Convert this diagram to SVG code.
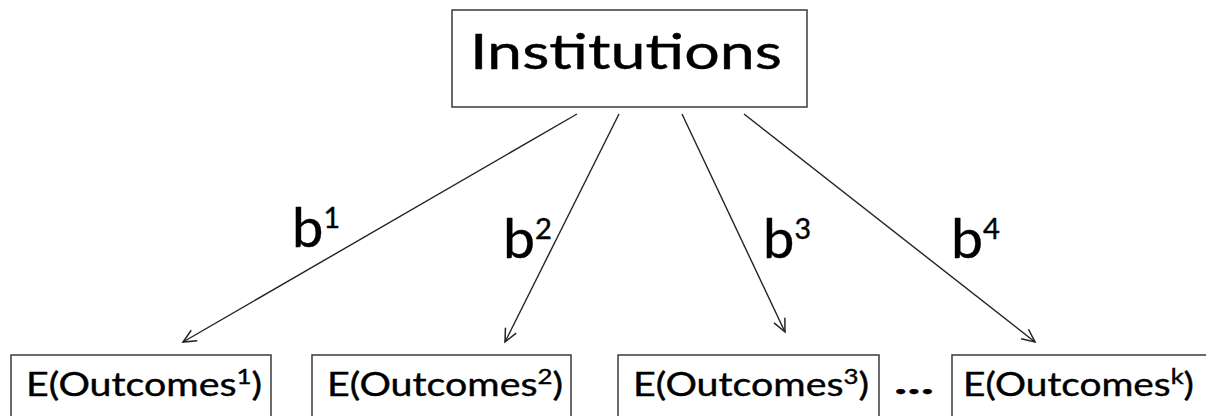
<svg xmlns="http://www.w3.org/2000/svg" width="1206" height="416" viewBox="0 0 1206 416">
<style>
.box{fill:#fff;stroke:#3a3a3a;stroke-width:1.5}
.t{font-family:Lato,"Open Sans","Liberation Sans",sans-serif;fill:#000;stroke:#000;stroke-width:0.4}
.conn line{stroke:#222;stroke-width:1.4;fill:none}
.lbl{font-family:Lato,"Open Sans","Liberation Sans",sans-serif;font-size:55px;fill:#000;stroke:#000;stroke-width:0.4}
.bt{font-size:32px}
</style>
<defs>
<marker id="ah" markerUnits="userSpaceOnUse" markerWidth="17" markerHeight="15" refX="14" refY="7.5" orient="auto" viewBox="0 0 17 15">
<path d="M1,1.5 L14,7.5 L1,13.5" fill="none" stroke="#222" stroke-width="1.5"/>
</marker>
</defs>
<rect width="1206" height="416" fill="#fff"/>
<g id="institutions">
<rect class="box" x="452" y="10" width="355" height="97"/>
<text class="t" x="470" y="69" font-size="48" textLength="312" lengthAdjust="spacingAndGlyphs">Institutions</text>
</g>
<g class="conn" id="connectors">
<line x1="577" y1="114" x2="183" y2="342" marker-end="url(#ah)"/>
<line x1="619" y1="114" x2="505" y2="342" marker-end="url(#ah)"/>
<line x1="682" y1="114" x2="785" y2="332" marker-end="url(#ah)"/>
<line x1="744" y1="114" x2="1035" y2="342" marker-end="url(#ah)"/>
<text class="lbl" x="292" y="247" textLength="48" lengthAdjust="spacingAndGlyphs">b<tspan font-size="28" dy="-19">1</tspan></text>
<text class="lbl" x="503" y="258" textLength="49" lengthAdjust="spacingAndGlyphs">b<tspan font-size="28" dy="-19">2</tspan></text>
<text class="lbl" x="763" y="258" textLength="48" lengthAdjust="spacingAndGlyphs">b<tspan font-size="28" dy="-19">3</tspan></text>
<text class="lbl" x="951" y="258" textLength="49" lengthAdjust="spacingAndGlyphs">b<tspan font-size="28" dy="-19">4</tspan></text>
</g>
<g id="outcome1">
<rect class="box" x="11" y="355" width="260" height="80"/>
<text class="t bt" x="26" y="396" textLength="236" lengthAdjust="spacingAndGlyphs">E(Outcomes<tspan font-size="21" dy="-12">1</tspan><tspan dy="12">)</tspan></text>
</g>
<g id="outcome2">
<rect class="box" x="312" y="355" width="259" height="80"/>
<text class="t bt" x="327" y="396" textLength="236" lengthAdjust="spacingAndGlyphs">E(Outcomes<tspan font-size="21" dy="-12">2</tspan><tspan dy="12">)</tspan></text>
</g>
<g id="outcome3">
<rect class="box" x="618" y="355" width="261" height="80"/>
<text class="t bt" x="633" y="396" textLength="236" lengthAdjust="spacingAndGlyphs">E(Outcomes<tspan font-size="21" dy="-12">3</tspan><tspan dy="12">)</tspan></text>
</g>
<g id="ellipsis">
<text class="t" x="894" y="394" font-size="32" font-weight="bold" textLength="40" lengthAdjust="spacingAndGlyphs">...</text>
</g>
<g id="outcomek">
<rect class="box" x="952" y="355" width="270" height="80"/>
<text class="t bt" x="963" y="396" textLength="231" lengthAdjust="spacingAndGlyphs">E(Outcomes<tspan font-size="21" dy="-12">k</tspan><tspan dy="12">)</tspan></text>
</g>
</svg>
